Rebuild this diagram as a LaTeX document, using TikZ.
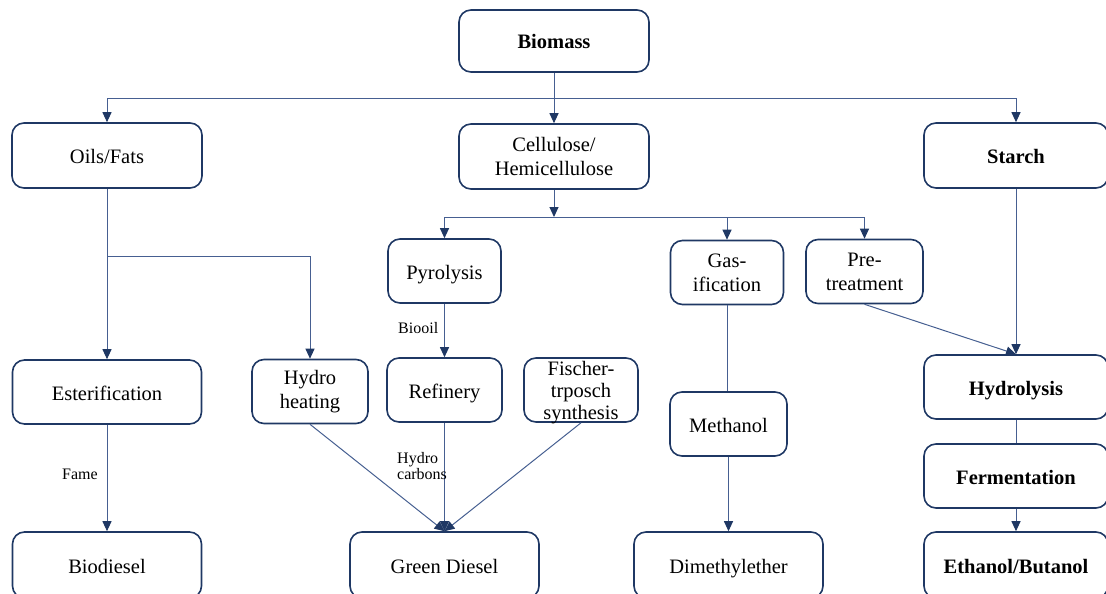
\documentclass[tikz,border=0pt]{standalone}
\usepackage{fontspec}
\setmainfont{Liberation Serif}
\usetikzlibrary{arrows.meta}
\definecolor{navy}{RGB}{31,56,100}
\definecolor{connc}{RGB}{70,95,145}
\begin{document}
\begin{tikzpicture}[x=1pt,y=-1pt,
  box/.style={draw=navy, line width=1.6pt, rounded corners=12pt, align=center,
    inner sep=0pt, font=\fontsize{20.5}{24}\selectfont, minimum height=64pt},
  boldbox/.style={box, font=\fontsize{20.5}{24}\selectfont\bfseries},
  one/.style={text height=16pt, text depth=0pt},
  lbl/.style={font=\fontsize{16}{16}\selectfont, align=left, inner sep=0pt},
  conn/.style={draw=connc, line width=1pt},
  arr/.style={conn, -{Triangle[width=9pt,length=10pt,color=navy]}}]
\useasboundingbox (0,0) rectangle (1106,594);
\clip (0,0) rectangle (1106,594);
% top levels
\node[boldbox, one, minimum width=190pt, minimum height=62pt] (bio) at (554,41) {Biomass};
\node[box, one, minimum width=190pt, minimum height=65pt] (oils) at (107,155.5) {Oils/Fats};
\node[box, minimum width=190pt, minimum height=65pt] (cell) at (554,156.5) {Cellulose/\\Hemicellulose};
\node[boldbox, one, minimum width=184pt, minimum height=65pt] (starch) at (1016,155.5) {Starch};
% second level
\node[box, one, minimum width=113pt] (pyro) at (444.5,271) {Pyrolysis};
\node[box, minimum width=113pt] (gas) at (727,272.5) {Gas-\\ification};
\node[box, minimum width=117pt] (pre) at (864.5,271.5) {Pre-\\treatment};
% third level
\node[box, one, minimum width=189pt] (ester) at (107,392) {Esterification};
\node[box, minimum width=116pt] (hh) at (310,391.5) {Hydro\\heating};
\node[box, one, minimum width=115pt] (ref) at (444.5,390) {Refinery};
\node[box, minimum width=114pt, minimum height=64pt] (ft) at (581,390) {};
\node[font=\fontsize{20.5}{22}\selectfont, align=center, inner sep=0pt] (ftt) at (581,393) {Fischer-\\trposch\\synthesis};
\node[box, one, minimum width=117pt] (meth) at (728.5,424) {Methanol};
\node[boldbox, one, minimum width=184pt] (hydro) at (1016,387) {Hydrolysis};
\node[boldbox, one, minimum width=184pt] (ferm) at (1016,476) {Fermentation};
% products
\node[box, one, minimum width=189pt, minimum height=66pt] (biod) at (107,565) {Biodiesel};
\node[box, one, minimum width=189pt, minimum height=66pt] (gd) at (444.5,565) {Green Diesel};
\node[box, one, minimum width=189pt, minimum height=66pt] (dme) at (728.5,565) {Dimethylether};
\node[boldbox, one, minimum width=184pt, minimum height=66pt] (eth) at (1016,565) {Ethanol/Butanol};
% junctions
\coordinate (j1) at (554,98);
\coordinate (j2) at (554,217);
\coordinate (j3) at (107,256);
% connectors
\draw[conn] (bio.south) -- (j1);
\draw[arr] (j1) -- (cell.north);
\draw[arr] (j1) -| (oils.north);
\draw[arr] (j1) -| (starch.north);
\draw[arr] (cell.south) -- (j2);
\draw[arr] (j2) -| (pyro.north);
\draw[arr] (j2) -| (gas.north);
\draw[arr] (j2) -| (pre.north);
\draw[conn] (oils.south) -- (j3);
\draw[arr] (j3) -- (ester.north);
\draw[arr] (j3) -| (hh.north);
\draw[arr] (pyro.south) -- (ref.north);
\draw[arr] (ester.south) -- (biod.north);
\draw[arr] (hh.south) -- (gd.north);
\draw[arr] (ref.south) -- (gd.north);
\draw[arr] (ft.south) -- (gd.north);
\draw[conn] (gas.south) -- (meth.north -| gas.south);
\draw[arr] (meth.south) -- (dme.north);
\draw[arr] (pre.south) -- (hydro.north);
\draw[arr] (starch.south) -- (hydro.north);
\draw[conn] (hydro.south) -- (ferm.north);
\draw[arr] (ferm.south) -- (eth.north);
% labels
\node[lbl, anchor=west] (lbio) at (398,328) {Biooil};
\node[lbl, anchor=west] (lfame) at (62,474) {Fame};
\node[lbl, anchor=west] (lhc) at (397,466) {Hydro\\carbons};
\end{tikzpicture}
\end{document}
